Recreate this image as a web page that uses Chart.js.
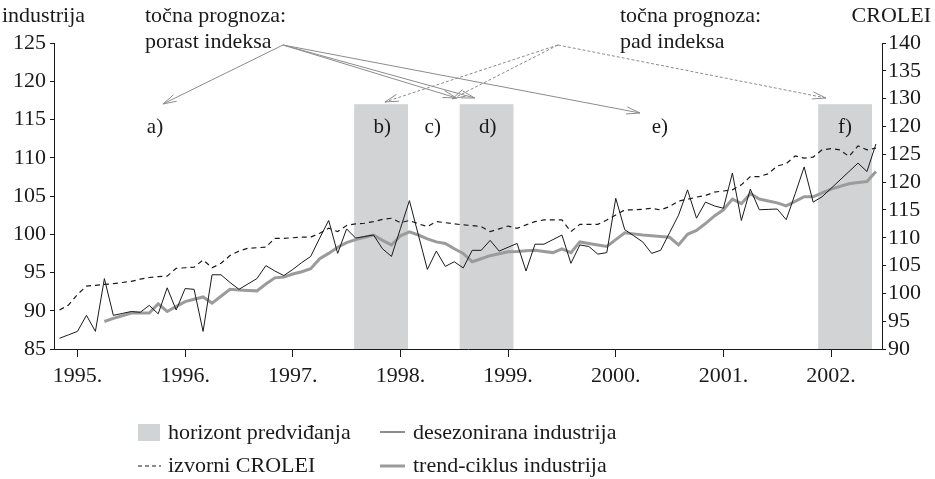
<!doctype html>
<html>
<head>
<meta charset="utf-8">
<style>
* { box-sizing: border-box; margin: 0; padding: 0; }
body { width: 935px; height: 479px; background: #fff; overflow: hidden; }
#wrap { position: relative; width: 935px; height: 479px; }
</style>
</head>
<body>
<div id="wrap"><canvas id="c"></canvas></div>
<script src="https://cdn.jsdelivr.net/npm/chart.js"></script>
<script>
// monthly data, first point Nov 1994
const startYear = 1994
const startMonth = 11

// desezonirana industrija (left axis)
const industrija = [
  86.4, 86.85, 87.3, 89.4, 87.3, 94.2, 89.4, 89.65, 89.9, 89.8,
  90.7, 89.6, 93.0, 90.1, 92.9, 92.8, 87.3, 94.7, 94.7, 93.7,
  92.8, 93.5, 94.2, 95.9, 95.2, 94.6, 95.4, 96.3, 97.1, 99.5,
  101.8, 97.5, 100.7, 99.5, 99.7, 99.9, 98.1, 97.1, 100.75, 104.4,
  99.9, 95.4, 97.8, 95.8, 96.4, 95.6, 97.9, 97.9, 99.2, 97.8,
  98.3, 98.8, 95.2, 98.7, 98.7, 99.3, 99.9, 96.2, 98.6, 98.4,
  97.4, 97.6, 104.7, 100.6, 99.8, 99.0, 97.5, 97.9, 100.2, 102.5,
  105.8, 102.1, 104.2, 103.7, 103.4, 108.0, 101.8, 105.9, 103.2, 103.25,
  103.3, 101.9, 105.3, 108.8, 104.2, 104.9, 106.0, 107.1, 108.2, 109.3,
  108.2, 111.8,
]

// trend-ciklus industrija (left axis)
const trend = [
  null, null, null, null, null, 88.6, 89.0, 89.35, 89.7, 89.7,
  89.7, 90.9, 89.9, 90.55, 91.2, 91.5, 91.8, 91.0, 91.9, 92.8,
  92.7, 92.65, 92.6, 93.5, 94.3, 94.4, 94.8, 95.1, 95.5, 96.8,
  97.5, 98.3, 98.9, 99.3, 99.6, 99.9, 99.2, 98.6, 99.8, 100.3,
  99.9, 99.4, 99.0, 98.8, 98.1, 97.5, 96.4, 96.8, 97.2, 97.45,
  97.7, 97.75, 97.85, 97.9, 97.75, 97.6, 98.1, 97.6, 99.0, 98.8,
  98.6, 98.4, 99.3, 100.2, 100.05, 99.9, 99.8, 99.7, 99.6, 98.6,
  100.0, 100.5, 101.4, 102.4, 103.2, 104.6, 104.0, 105.3, 104.6, 104.35,
  104.1, 103.7, 104.3, 104.9, 104.9, 105.4, 105.9, 106.25, 106.6, 106.75,
  106.9, 108.2,
]

// izvorni CROLEI (right axis)
const crolei = [
  97.0, 97.9, 99.8, 101.3, 101.45, 101.6, 101.75, 101.95, 102.15, 102.55,
  102.85, 103.0, 103.1, 104.5, 104.6, 104.7, 106.0, 104.6, 105.4, 106.8,
  107.6, 108.1, 108.2, 108.3, 109.9, 109.9, 110.0, 110.1, 110.1, 110.8,
  111.7, 111.1, 112.2, 112.5, 112.6, 112.9, 113.3, 113.5, 112.7, 113.1,
  112.5, 112.0, 112.9, 112.7, 112.5, 112.3, 112.2, 112.0, 111.1, 111.6,
  112.1, 111.7, 112.3, 112.9, 113.2, 113.2, 113.2, 111.1, 112.4, 112.4,
  112.4, 113.2, 114.1, 115.0, 115.0, 115.1, 115.3, 115.0, 115.6, 116.6,
  116.9, 117.3, 117.6, 118.2, 118.4, 118.6, 119.5, 121.0, 121.0, 121.5,
  122.9, 123.3, 124.7, 124.3, 124.5, 125.8, 126.0, 125.8, 124.6, 126.5,
  125.8, 126.1,
]

const yearTicks = [1995, 1996, 1997, 1998, 1999, 2000, 2001, 2002]
// right axis labels as printed, bottom to top
const rightTickLabels = ['90', '95', '100', '105', '110', '115', '120', '125', '120', '130', '135', '140']

// forecast horizons (years) and their letters
const bands = [[1997.57, 1998.07], [1998.55, 1999.05], [2001.88, 2002.38]]
const bandTop = 117
const letters = ['a)', 'b)', 'c)', 'd)', 'e)', 'f)']
const letterX = [1995.72, 1997.83, 1998.30, 1998.81, 2000.41, 2002.13]
const letterY = 114.1

// arrows: [from, to] in [year, industrija]
const upFrom = [1996.909, 124.74]
const upTo = [[1995.794, 117.03], [1998.52, 117.81], [1998.69, 117.81], [2000.225, 115.85]]
const downFrom = [1999.463, 124.74]
const downTo = [[1997.856, 117.29], [1998.48, 117.68], [2001.952, 117.81]]

const months = industrija.map((_, i) => startYear + (startMonth - 1 + i) / 12)
const pts = arr => arr.map((v, i) => ({ x: months[i], y: v }))

const FONT = "'Liberation Serif', 'Times New Roman', serif"
const bandColor = '#d2d3d5'
const trendColor = '#9b9b9b'
const arrowColor = '#8c8c8c'
const ink = '#1a1a1a'

function arrow(ctx, x0, y0, x1, y1, dash) {
    ctx.setLineDash(dash)
    ctx.beginPath()
    ctx.moveTo(x0, y0)
    ctx.lineTo(x1, y1)
    ctx.stroke()
    let ang = Math.atan2(y1 - y0, x1 - x0)
    let L = 14, w = 0.26
    ctx.setLineDash([])
    ctx.beginPath()
    ctx.moveTo(x1 - L * Math.cos(ang - w), y1 - L * Math.sin(ang - w))
    ctx.lineTo(x1, y1)
    ctx.lineTo(x1 - L * Math.cos(ang + w), y1 - L * Math.sin(ang + w))
    ctx.stroke()
}

const overlay = {
    id: 'overlay',
    beforeDatasetsDraw(chart) {
        let { ctx, chartArea, scales: { x, y } } = chart
        ctx.save()
        ctx.fillStyle = bandColor
        let top = y.getPixelForValue(bandTop)
        bands.forEach(([a, b]) => {
            let x0 = x.getPixelForValue(a), x1 = x.getPixelForValue(b)
            ctx.fillRect(x0, top, x1 - x0, chartArea.bottom - top)
        })
        ctx.restore()
    },
    afterDraw(chart) {
        let { ctx, scales: { x, y } } = chart
        ctx.save()
        ctx.fillStyle = ink
        ctx.font = `21px ${FONT}`
        ctx.textBaseline = 'alphabetic'

        // letters
        ctx.textAlign = 'center'
        letters.forEach((t, i) => {
            ctx.fillText(t, x.getPixelForValue(letterX[i]), y.getPixelForValue(letterY) + 7)
        })

        // headers
        ctx.font = `22px ${FONT}`
        ctx.textAlign = 'left'
        ctx.fillText('industrija', 2, 22)
        ctx.fillText('točna prognoza:', 145, 22)
        ctx.fillText('porast indeksa', 145, 48)
        ctx.fillText('točna prognoza:', 620, 22)
        ctx.fillText('pad indeksa', 620, 48)
        ctx.textAlign = 'right'
        ctx.fillText('CROLEI', 931, 22)

        // arrows
        ctx.strokeStyle = arrowColor
        ctx.lineWidth = 1
        let sx = x.getPixelForValue(upFrom[0]), sy = y.getPixelForValue(upFrom[1])
        upTo.forEach(([tx, ty]) => arrow(ctx, sx, sy, x.getPixelForValue(tx), y.getPixelForValue(ty), []))
        sx = x.getPixelForValue(downFrom[0]); sy = y.getPixelForValue(downFrom[1])
        downTo.forEach(([tx, ty]) => arrow(ctx, sx, sy, x.getPixelForValue(tx), y.getPixelForValue(ty), [3, 2]))

        // legend
        ctx.setLineDash([])
        ctx.font = `22px ${FONT}`
        ctx.textAlign = 'left'
        ctx.textBaseline = 'middle'
        ctx.fillStyle = bandColor
        ctx.fillRect(138, 424, 22, 17)
        ctx.fillStyle = ink
        ctx.fillText('horizont predviđanja', 168, 433)
        ctx.fillText('izvorni CROLEI', 168, 466)
        ctx.fillText('desezonirana industrija', 413, 433)
        ctx.fillText('trend-ciklus industrija', 413, 466)
        ctx.strokeStyle = ink
        ctx.lineWidth = 1
        ctx.setLineDash([4, 3])
        ctx.beginPath(); ctx.moveTo(138, 466); ctx.lineTo(161, 466); ctx.stroke()
        ctx.setLineDash([])
        ctx.beginPath(); ctx.moveTo(380, 432); ctx.lineTo(405, 432); ctx.stroke()
        ctx.strokeStyle = trendColor
        ctx.lineWidth = 3
        ctx.beginPath(); ctx.moveTo(380, 466); ctx.lineTo(405, 466); ctx.stroke()
        ctx.restore()
    },
}

const tickFont = { family: FONT, size: 22 }

new Chart(document.getElementById('c'), {
    type: 'line',
    data: {
        datasets: [
            {
                label: 'trend-ciklus industrija',
                data: pts(trend),
                borderColor: trendColor,
                borderWidth: 3,
                yAxisID: 'y',
                order: 3,
            },
            {
                label: 'izvorni CROLEI',
                data: pts(crolei),
                borderColor: ink,
                borderWidth: 1.2,
                borderDash: [5, 4],
                yAxisID: 'y2',
                order: 2,
            },
            {
                label: 'desezonirana industrija',
                data: pts(industrija),
                borderColor: ink,
                borderWidth: 1,
                yAxisID: 'y',
                order: 1,
            },
        ],
    },
    options: {
        animation: false,
        responsive: true,
        maintainAspectRatio: false,
        datasets: { line: { pointRadius: 0, tension: 0, fill: false } },
        layout: { padding: { top: 43, left: 0, right: 0, bottom: 0 } },
        plugins: { legend: { display: false }, tooltip: { enabled: false } },
        scales: {
            x: {
                type: 'linear',
                min: 1994.782,
                max: 2002.473,
                afterBuildTicks: s => { s.ticks = yearTicks.map(v => ({ value: v })) },
                afterFit: s => { s.height = 130 },
                ticks: { callback: v => v + '.', font: tickFont, color: ink, padding: 6, maxRotation: 0, autoSkip: false },
                grid: { drawOnChartArea: false, tickLength: 8, color: ink },
                border: { color: ink, width: 1 },
            },
            y: {
                position: 'left',
                min: 85,
                max: 125,
                afterFit: s => { s.width = 54 },
                ticks: { stepSize: 5, font: tickFont, color: ink, padding: 4, autoSkip: false },
                grid: { drawOnChartArea: false, tickLength: 4, color: ink },
                border: { color: ink, width: 1 },
            },
            y2: {
                position: 'right',
                min: 90,
                max: 145,
                afterFit: s => { s.width = 53 },
                ticks: { stepSize: 5, font: tickFont, color: ink, padding: 2, autoSkip: false, callback: (v, i) => rightTickLabels[i] },
                grid: { drawOnChartArea: false, tickLength: 4, color: ink },
                border: { color: ink, width: 1 },
            },
        },
    },
    plugins: [overlay],
})
</script>
</body>
</html>
